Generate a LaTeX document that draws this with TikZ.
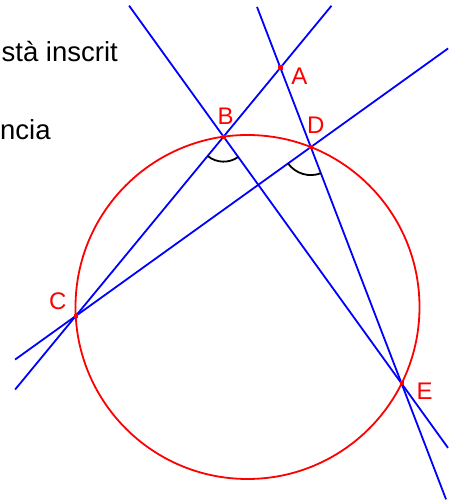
\documentclass[tikz,border=0pt]{standalone}
\usepackage{fontspec}
\setmainfont{Liberation Sans}
\usetikzlibrary{calc}

\begin{document}
\begin{tikzpicture}[x=1pt,y=1pt,
  retta/.style={blue,line width=1.8pt},
  etich/.style={red,font=\fontsize{24}{24}\selectfont,inner sep=0pt},
  testo/.style={font=\fontsize{27.5}{33}\selectfont,inner sep=0pt}]
  \useasboundingbox (0,0) rectangle (456,502); % 図全体の範囲
  \node[testo,anchor=base east] (riga1) at (118,440) {stà inscrit}; % 左上の文
  \node[testo,anchor=base west] (riga2) at (0,362) {ncia}; % 二行目の文
  \coordinate (O) at (247.5,195); % 円の中心
  \coordinate (C) at ($(O)+(183:172)$); % 円周上の点C
  \coordinate (B) at ($(O)+(98:172)$); % 円周上の点B
  \coordinate (D) at ($(O)+(68.4:172)$); % 円周上の点D
  \coordinate (E) at ($(O)+(-26.4:172)$); % 円周上の点E
  \coordinate (A) at (intersection of C--B and D--E); % 直線CBと直線DEの交点A
  \draw[red,line width=1.8pt] (O) circle[radius=172]; % 赤い円
  \coordinate (CB1) at ($(C)!-0.41!(B)$); % 直線CBの下端
  \coordinate (CB2) at ($(C)!1.73!(B)$); % 直線CBの上端
  \coordinate (CD1) at ($(C)!-0.258!(D)$); % 直線CDの下端
  \coordinate (CD2) at ($(C)!1.584!(D)$); % 直線CDの上端
  \coordinate (BE1) at ($(B)!-0.531!(E)$); % 直線BEの上端
  \coordinate (BE2) at ($(B)!1.261!(E)$); % 直線BEの下端
  \coordinate (DE1) at ($(D)!-0.593!(E)$); % 直線DEの上端
  \coordinate (DE2) at ($(D)!1.49!(E)$); % 直線DEの下端
  \draw[retta] (CB1) -- (CB2); % 直線CBA
  \draw[retta] (CD1) -- (CD2); % 直線CD
  \draw[retta] (BE1) -- (BE2); % 直線BE
  \draw[retta] (DE1) -- (DE2); % 直線ADE
  \draw[line width=1.8pt] ($(B)+(-129.5:25)$) arc[start angle=-129.5,end angle=-54.2,radius=25]; % 角CBEの弧
  \draw[line width=1.8pt] ($(D)+(-144.3:28)$) arc[start angle=-144.3,end angle=-69,radius=28]; % 角CDEの弧
  \fill[red] ($(A)+(-2.5,-2.5)$) rectangle ($(A)+(2.5,2.5)$); % 点Aの印
  \fill[red] ($(B)+(-2,-2)$) rectangle ($(B)+(2,2)$); % 点Bの印
  \fill[red] ($(C)+(-2,-2)$) rectangle ($(C)+(2,2)$); % 点Cの印
  \fill[red] ($(D)+(-2,-2)$) rectangle ($(D)+(2,2)$); % 点Dの印
  \fill[red] ($(E)+(-2,-2)$) rectangle ($(E)+(2,2)$); % 点Eの印
  \node[etich] (lA) at ($(A)+(19,-8)$) {A}; % ラベルA
  \node[etich] (lB) at ($(B)+(2,20)$) {B}; % ラベルB
  \node[etich] (lC) at ($(C)+(-18,15)$) {C}; % ラベルC
  \node[etich] (lD) at ($(D)+(5,22)$) {D}; % ラベルD
  \node[etich] (lE) at ($(E)+(23,-8)$) {E}; % ラベルE
\end{tikzpicture}
\end{document}
